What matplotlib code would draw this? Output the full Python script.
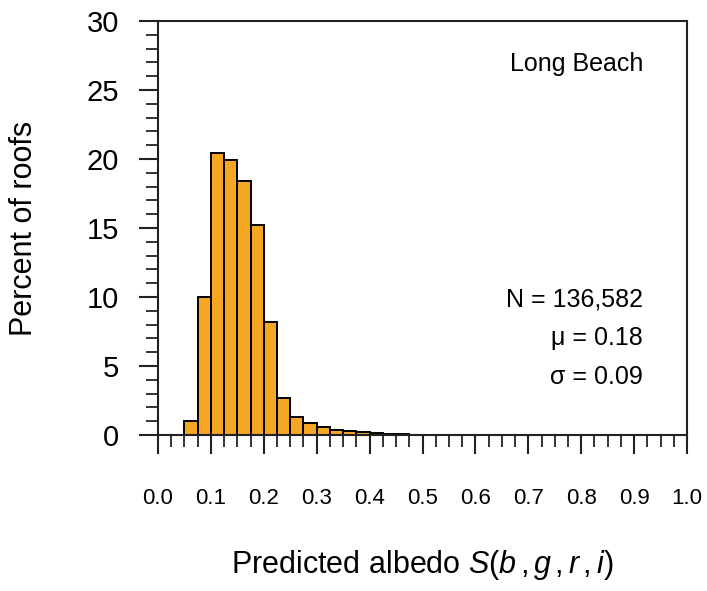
import matplotlib.pyplot as plt
import numpy as np
from matplotlib.ticker import MultipleLocator

plt.rcParams['font.family'] = ['Liberation Sans', 'DejaVu Sans']
plt.rcParams['mathtext.fontset'] = 'custom'
plt.rcParams['mathtext.it'] = 'Liberation Sans:italic'
plt.rcParams['mathtext.rm'] = 'Liberation Sans'

# histogram bins (left edges, width 0.025) and percent of roofs
bin_left = np.arange(0.05, 0.5, 0.025)
percent = [1.0, 10.0, 20.4, 19.9, 18.4, 15.2, 8.2, 2.7, 1.3, 0.85,
           0.55, 0.37, 0.27, 0.19, 0.12, 0.08, 0.05, 0.03]
bin_width = 0.025

city = "Long Beach"
stats = ["N = 136,582", "\u03bc = 0.18", "\u03c3 = 0.09"]

fig = plt.figure(figsize=(7.07, 5.91), dpi=100)
ax = fig.add_axes([0.2235, 0.264, 0.7482, 0.7005])

ax.bar(bin_left, percent, width=bin_width, align='edge',
       color='#F5A623', edgecolor='black', linewidth=1.4)

ax.set_xlim(0, 1.0)
ax.set_ylim(0, 30)
ax.xaxis.set_major_locator(MultipleLocator(0.1))
ax.xaxis.set_minor_locator(MultipleLocator(0.025))
ax.yaxis.set_major_locator(MultipleLocator(5))
ax.yaxis.set_minor_locator(MultipleLocator(1))
ticks = np.arange(0, 1.01, 0.1)
ax.set_xticks(ticks, [f"{v:.1f}" for v in ticks])

ax.tick_params(axis='both', which='major', direction='out', length=14, width=1.5, color='#222222')
ax.tick_params(axis='both', which='minor', direction='out', length=8.5, width=1.3, color='#222222')
ax.tick_params(axis='x', which='major', labelsize=16, pad=24)
ax.tick_params(axis='y', which='major', labelsize=21, pad=14)
for s in ax.spines.values():
    s.set_linewidth(1.5)
    s.set_color('#222222')

ax.set_ylabel("Percent of roofs", fontsize=22, labelpad=34)
ax.set_xlabel(r"Predicted albedo $S(b\,,g\,,r\,,i)$", fontsize=22, labelpad=28)

ax.text(0.917, 0.880, city, transform=ax.transAxes, ha='right', va='baseline', fontsize=18)
for t, yf in zip(stats, [0.310, 0.217, 0.122]):
    ax.text(0.917, yf, t, transform=ax.transAxes,
            ha='right', va='baseline', fontsize=18)

fig.savefig("out.png", dpi=100)
